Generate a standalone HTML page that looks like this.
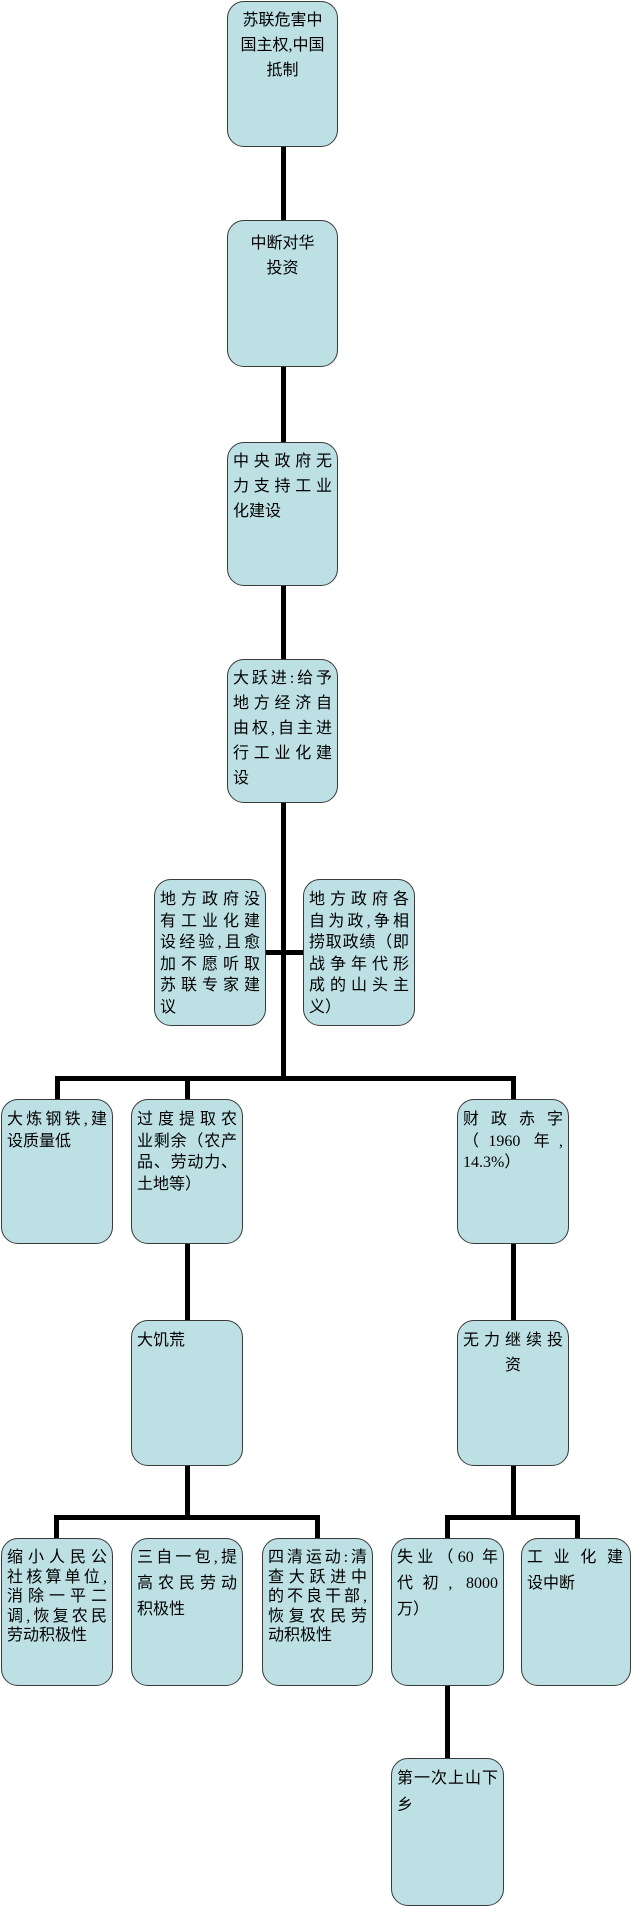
<!DOCTYPE html>
<html><head><meta charset="utf-8"><style>
body{margin:0;width:631px;height:1906px;background:#fff;position:relative;overflow:hidden;font-family:"Liberation Serif","Noto Sans CJK SC",sans-serif;}
.b{position:absolute;box-sizing:border-box;background:#bce0e3;border:1.5px solid #3a3a3a;border-radius:17px;font-size:16px;color:#000;padding:6px 5px 0 5px;line-height:25px;}
.b div{white-space:nowrap;overflow:visible}
.f{text-align:justify;text-align-last:justify}
.c{text-align:center}
.j{line-height:21.5px;padding-top:9px}
.l{position:absolute;background:#000}
</style></head><body>
<div class="l" style="left:281px;top:146px;width:5px;height:513px"></div>
<div class="l" style="left:281px;top:803px;width:5px;height:277px"></div>
<div class="l" style="left:266px;top:950px;width:38px;height:5px"></div>
<div class="l" style="left:55px;top:1076px;width:461px;height:5px"></div>
<div class="l" style="left:55px;top:1076px;width:5px;height:23px"></div>
<div class="l" style="left:185px;top:1076px;width:5px;height:23px"></div>
<div class="l" style="left:511px;top:1076px;width:5px;height:23px"></div>
<div class="l" style="left:185px;top:1243px;width:5px;height:77px"></div>
<div class="l" style="left:511px;top:1243px;width:5px;height:77px"></div>
<div class="l" style="left:185px;top:1465px;width:5px;height:52px"></div>
<div class="l" style="left:511px;top:1465px;width:5px;height:52px"></div>
<div class="l" style="left:54px;top:1515px;width:265px;height:5px"></div>
<div class="l" style="left:54px;top:1515px;width:5px;height:23px"></div>
<div class="l" style="left:315px;top:1515px;width:5px;height:23px"></div>
<div class="l" style="left:445px;top:1515px;width:135px;height:5px"></div>
<div class="l" style="left:445px;top:1515px;width:5px;height:23px"></div>
<div class="l" style="left:575px;top:1515px;width:5px;height:23px"></div>
<div class="l" style="left:445px;top:1685px;width:5px;height:73px"></div>

<div class="b c" style="left:227px;top:1px;width:111px;height:146px"><div>苏联危害中</div><div>国主权,中国</div><div>抵制</div></div>
<div class="b c" style="left:227px;top:220px;width:111px;height:147px;padding-top:10px"><div>中断对华</div><div>投资</div></div>
<div class="b" style="left:227px;top:442px;width:111px;height:144px"><div class="f">中央政府无</div><div class="f">力支持工业</div><div>化建设</div></div>
<div class="b" style="left:227px;top:659px;width:111px;height:144px"><div class="f">大跃进:给予</div><div class="f">地方经济自</div><div class="f">由权,自主进</div><div class="f">行工业化建</div><div>设</div></div>
<div class="b j" style="left:154px;top:879px;width:112px;height:147px"><div class="f">地方政府没</div><div class="f">有工业化建</div><div class="f">设经验,且愈</div><div class="f">加不愿听取</div><div class="f">苏联专家建</div><div>议</div></div>
<div class="b j" style="left:303px;top:879px;width:112px;height:147px"><div class="f">地方政府各</div><div class="f">自为政,争相</div><div class="f">捞取政绩（即</div><div class="f">战争年代形</div><div class="f">成的山头主</div><div>义）</div></div>
<div class="b j" style="left:1px;top:1099px;width:112px;height:145px"><div class="f">大炼钢铁,建</div><div>设质量低</div></div>
<div class="b j" style="left:131px;top:1099px;width:112px;height:145px"><div class="f">过度提取农</div><div class="f">业剩余（农产</div><div class="f">品、劳动力、</div><div>土地等）</div></div>
<div class="b j" style="left:457px;top:1099px;width:112px;height:145px"><div class="f">财 政 赤 字</div><div class="f">（1960 年,</div><div>14.3%）</div></div>
<div class="b" style="left:131px;top:1320px;width:112px;height:146px;padding-top:7px"><div>大饥荒</div></div>
<div class="b c" style="left:457px;top:1320px;width:112px;height:146px;padding-top:7px"><div class="f">无力继续投</div><div>资</div></div>
<div class="b j" style="left:1px;top:1538px;width:112px;height:148px;line-height:19.5px"><div class="f">缩小人民公</div><div class="f">社核算单位,</div><div class="f">消除一平二</div><div class="f">调,恢复农民</div><div>劳动积极性</div></div>
<div class="b" style="left:131px;top:1538px;width:112px;height:148px;line-height:26px"><div class="f">三自一包,提</div><div class="f">高农民劳动</div><div>积极性</div></div>
<div class="b j" style="left:262px;top:1538px;width:111px;height:148px;line-height:19.5px"><div class="f">四清运动:清</div><div class="f">查大跃进中</div><div class="f">的不良干部,</div><div class="f">恢复农民劳</div><div>动积极性</div></div>
<div class="b" style="left:391px;top:1538px;width:113px;height:148px;line-height:26px"><div class="f">失业（60 年</div><div class="f">代初, 8000</div><div>万）</div></div>
<div class="b" style="left:521px;top:1538px;width:110px;height:148px;line-height:26px"><div class="f" style="width:96px">工业化建</div><div>设中断</div></div>
<div class="b" style="left:391px;top:1758px;width:113px;height:148px;line-height:27px"><div class="f">第一次上山下</div><div>乡</div></div>
</body></html>
